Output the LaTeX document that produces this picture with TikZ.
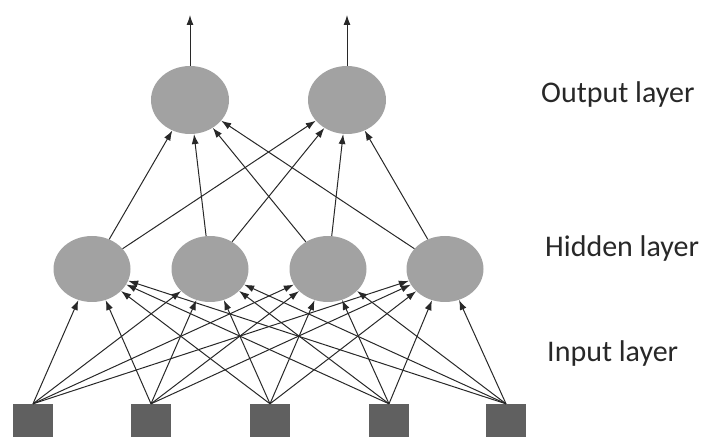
\documentclass[tikz,border=0pt]{standalone}
\usepackage{fontspec}
\setmainfont{Carlito}
\usetikzlibrary{shapes.geometric,arrows.meta}
\definecolor{unitgray}{RGB}{162,162,162}
\definecolor{boxgray}{RGB}{96,96,96}
\definecolor{linegray}{RGB}{40,40,40}
\tikzset{
  unit/.style={ellipse,fill=unitgray,minimum width=77pt,minimum height=66pt,inner sep=0pt},
  inbox/.style={rectangle,fill=boxgray,minimum width=40pt,minimum height=33pt,inner sep=0pt},
  link/.style={draw=linegray,line width=1pt,-{Latex[length=10pt,width=7pt]}},
  layername/.style={anchor=base west,inner sep=0pt,text=linegray,font=\fontsize{30}{35}\selectfont}
}
\begin{document}
\begin{tikzpicture}[x=1pt,y=1pt]
\useasboundingbox (0,0) rectangle (705,437);
\node[inbox] (in1) at (33,16.5) {};
\node[inbox] (in2) at (151,16.5) {};
\node[inbox] (in3) at (270,16.5) {};
\node[inbox] (in4) at (389,16.5) {};
\node[inbox] (in5) at (506,16.5) {};
\node[unit] (hid1) at (92,168) {};
\node[unit] (hid2) at (210,168) {};
\node[unit] (hid3) at (328,168) {};
\node[unit] (hid4) at (445,168) {};
\node[unit,minimum width=78pt,minimum height=68pt] (out1) at (190,337) {};
\node[unit,minimum width=78pt,minimum height=68pt] (out2) at (347,337) {};
\coordinate (top1) at (190,422);
\coordinate (top2) at (347,422);
\foreach \i in {1,...,5}
  \foreach \j in {1,...,4}
    \draw[link] (in\i.north) -- (hid\j);
\foreach \j in {1,...,4}
  \foreach \k in {1,2}
    \draw[link] (hid\j) -- (out\k);
\draw[link] (out1) -- (top1);
\draw[link] (out2) -- (top2);
\node[layername] (outname) at (541,334) {Output layer};
\node[layername] (hidname) at (545,180) {Hidden layer};
\node[layername] (inname) at (547,75) {Input layer};
\end{tikzpicture}
\end{document}
